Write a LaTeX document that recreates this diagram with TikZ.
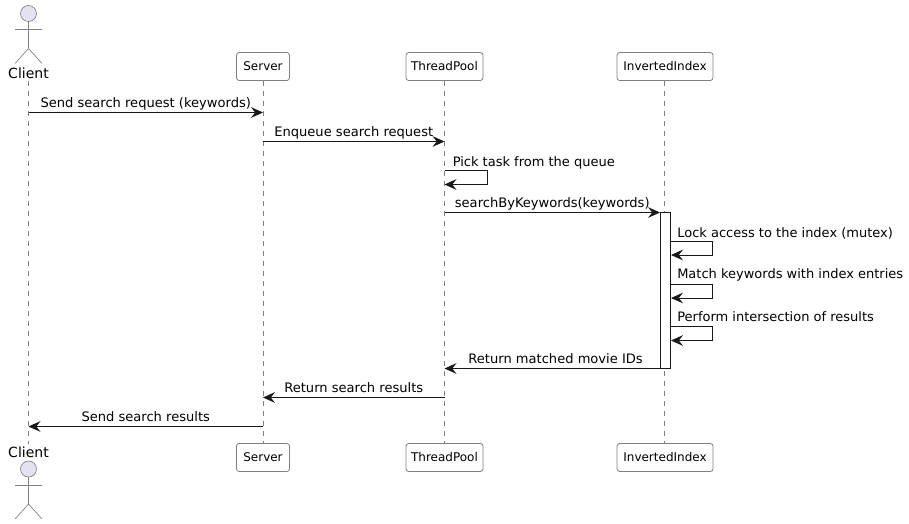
\documentclass[tikz,border=0pt]{standalone}
\usepackage{fontspec}
\setmainfont{DejaVu Sans}
\usetikzlibrary{arrows.meta}
\definecolor{lineblack}{HTML}{181818}
\definecolor{actorfill}{HTML}{E2E2F0}
\tikzset{
    partbox/.style={draw=lineblack!55, line width=0.6pt, rounded corners=2pt, fill=white, inner sep=0pt, minimum height=21pt, font=\fontsize{9}{11}\selectfont},
    actorname/.style={inner sep=0pt, minimum height=12pt, font=\fontsize{10.5}{12}\selectfont},
    lifeline/.style={draw=lineblack!55, line width=0.5pt, dash pattern=on 3.75pt off 3.75pt},
    msg/.style={draw=lineblack, line width=0.75pt, -{Stealth[length=9pt,width=8pt,inset=3.2pt]}},
    msgtext/.style={inner sep=0pt, anchor=base, yshift=3.9pt, font=\fontsize{9.8}{12}\selectfont},
    selftext/.style={inner sep=0pt, anchor=base west, font=\fontsize{9.75}{12}\selectfont},
    actbox/.style={draw=lineblack, line width=0.75pt, fill=white, minimum width=7.5pt, inner sep=0pt},
    actor/.pic={
        \draw[draw=lineblack!55, line width=0.5pt, fill=actorfill] (0,0) circle (8);
        \draw[draw=lineblack!55, line width=0.5pt] (0,8) -- (0,35);
        \draw[draw=lineblack!55, line width=0.5pt] (-13.5,16) -- (13.5,16);
        \draw[draw=lineblack!55, line width=0.5pt] (-13.5,50) -- (0,35) -- (13.5,50);
    }
}
\begin{document}
\begin{tikzpicture}[x=0.75pt,y=-0.75pt]
    \useasboundingbox (0,0) rectangle (909,524);
    % participants
    \pic at (28.5,13.5) {actor};
    \pic at (28.5,469) {actor};
    \node[actorname] (clientT) at (28.5,73) {Client};
    \node[actorname] (clientB) at (28.5,452) {Client};
    \node[partbox, minimum width=39.75pt] (serverT) at (263,66.5) {Server};
    \node[partbox, minimum width=39.75pt] (serverB) at (263,457.5) {Server};
    \node[partbox, minimum width=57.75pt] (poolT) at (444.5,66.5) {ThreadPool};
    \node[partbox, minimum width=57.75pt] (poolB) at (444.5,457.5) {ThreadPool};
    \node[partbox, minimum width=72pt] (indexT) at (665,66.5) {InvertedIndex};
    \node[partbox, minimum width=72pt] (indexB) at (665,457.5) {InvertedIndex};
    % lifelines
    \draw[lifeline] (clientT) -- (clientB);
    \draw[lifeline] (serverT) -- (serverB);
    \draw[lifeline] (poolT) -- (poolB);
    \draw[lifeline] ([xshift=-0.75pt]indexT.south) -- ([xshift=-0.75pt]indexB.north);
    \node[actbox, minimum height=117pt] (act) at (665.5,290) {};
    % message heights
    \coordinate (m1) at (0,112.5);
    \coordinate (m2) at (0,141.5);
    \coordinate (m3) at (0,170.5);
    \coordinate (m3e) at (0,184.5);
    \coordinate (m4) at (0,212.5);
    \coordinate (m5) at (0,241);
    \coordinate (m5e) at (0,255);
    \coordinate (m6) at (0,284);
    \coordinate (m6e) at (0,298);
    \coordinate (m7) at (0,326.5);
    \coordinate (m7e) at (0,340.5);
    \coordinate (m8) at (0,368.5);
    \coordinate (m9) at (0,397.5);
    \coordinate (m10) at (0,426.5);
    % messages
    \draw[msg] (clientT |- m1) -- node[msgtext]{Send search request (keywords)} (serverT |- m1);
    \draw[msg] (serverT |- m2) -- node[msgtext]{Enqueue search request} (poolT |- m2);
    \draw[msg] (poolT |- m3) -- ++(43,0) -- ++(0,14) -- (poolT |- m3e);
    \node[selftext] (t3) at ([xshift=6pt,yshift=3pt]poolT |- m3) {Pick task from the queue};
    \draw[msg] (poolT |- m4) -- node[msgtext]{searchByKeywords(keywords)} (act.west |- m4);
    \draw[msg] (act.east |- m5) -- ++(41,0) -- ++(0,14) -- (act.east |- m5e);
    \node[selftext] (t5) at ([xshift=4.5pt,yshift=3pt]act.east |- m5) {Lock access to the index (mutex)};
    \draw[msg] (act.east |- m6) -- ++(41,0) -- ++(0,14) -- (act.east |- m6e);
    \node[selftext] (t6) at ([xshift=4.5pt,yshift=3.9pt]act.east |- m6) {Match keywords with index entries};
    \draw[msg] (act.east |- m7) -- ++(41,0) -- ++(0,14) -- (act.east |- m7e);
    \node[selftext] (t7) at ([xshift=4.5pt,yshift=3.9pt]act.east |- m7) {Perform intersection of results};
    \draw[msg] (act.west |- m8) -- node[msgtext, xshift=2.5pt]{Return matched movie IDs} (poolT |- m8);
    \draw[msg] (poolT |- m9) -- node[msgtext]{Return search results} (serverT |- m9);
    \draw[msg] (serverT |- m10) -- node[msgtext]{Send search results} (clientT |- m10);
\end{tikzpicture}
\end{document}
